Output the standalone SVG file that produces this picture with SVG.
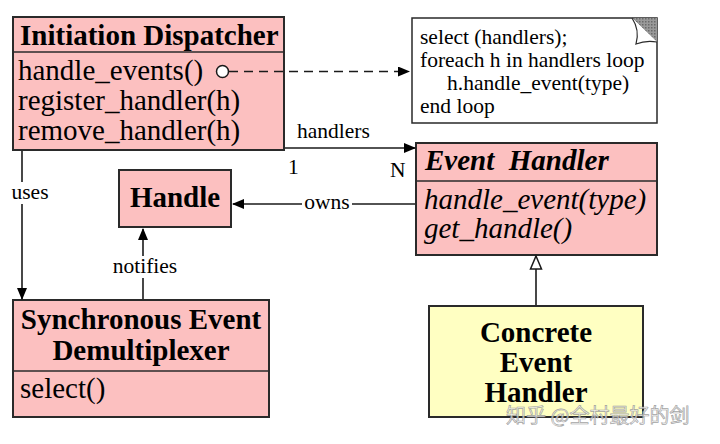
<svg xmlns="http://www.w3.org/2000/svg" width="720" height="444" viewBox="0 0 720 444">
  <style>
    .box { fill: #fcc0c0; stroke: #2a2a2a; stroke-width: 2; }
    .yel { fill: #ffffc2; stroke: #2a2a2a; stroke-width: 2; }
    .note { fill: #ffffff; stroke: #2a2a2a; stroke-width: 1.5; }
    .div { stroke: #2a2a2a; stroke-width: 1.5; }
    .t { font-family: "Liberation Serif", "Times New Roman", serif; fill: #000; }
    .title { font-size: 29px; font-weight: bold; }
    .m { font-size: 29px; }
    .lbl { font-size: 21.5px; }
    .nt { font-size: 21.5px; }
    .ln { fill: none; stroke: #1a1a1a; stroke-width: 1.6; }
  </style>
  <defs>
    <marker id="arr" markerWidth="12" markerHeight="10" refX="11" refY="5" orient="auto" markerUnits="userSpaceOnUse">
      <path d="M0,0 L12,5 L0,10 Z" fill="#000"/>
    </marker>
    <pattern id="dots" width="3" height="3" patternUnits="userSpaceOnUse">
      <rect width="3" height="3" fill="#9a9a9a"/>
      <rect width="1.5" height="1.5" fill="#6a6a6a"/>
    </pattern>
  </defs>

  <rect width="720" height="444" fill="#ffffff"/>

  <g id="initiation-dispatcher">
    <rect class="box" x="13" y="17" width="271" height="133"/>
    <line class="div" x1="13" y1="52" x2="284" y2="52"/>
    <text class="t title" x="20" y="45">Initiation Dispatcher</text>
    <text class="t m" x="18" y="80">handle_events()</text>
    <text class="t m" x="18" y="110">register_handler(h)</text>
    <text class="t m" x="18" y="140">remove_handler(h)</text>
  </g>

  <g id="note">
    <path class="note" d="M412,18 H657 V123 H412 Z"/>
    <path d="M632,18 H657 V42 Z" fill="url(#dots)"/>
    <path d="M632,18 Q640,30 636,44 Q646,40 657,42" fill="#fff" stroke="#2a2a2a" stroke-width="1.2"/>
    <text class="t nt" x="420" y="44">select (handlers);</text>
    <text class="t nt" x="420" y="67">foreach h in handlers loop</text>
    <text class="t nt" x="447" y="90">h.handle_event(type)</text>
    <text class="t nt" x="420" y="113">end loop</text>
  </g>

  <g id="event-handler">
    <rect class="box" x="416" y="143" width="241" height="112"/>
    <line class="div" x1="416" y1="181" x2="657" y2="181"/>
    <text class="t title" x="425" y="170" font-style="italic" xml:space="preserve">Event  Handler</text>
    <text class="t m" x="424" y="209" font-style="italic">handle_event(type)</text>
    <text class="t m" x="424" y="238" font-style="italic">get_handle()</text>
  </g>

  <g id="handle">
    <rect class="box" x="119" y="170" width="112" height="57"/>
    <text class="t title" x="175" y="207" text-anchor="middle" font-size="30">Handle</text>
  </g>

  <g id="sync-demux">
    <rect class="box" x="13" y="300" width="256" height="117"/>
    <line class="div" x1="13" y1="371" x2="269" y2="371"/>
    <text class="t title" x="141" y="329" text-anchor="middle">Synchronous Event</text>
    <text class="t title" x="141" y="360" text-anchor="middle">Demultiplexer</text>
    <text class="t m" x="20" y="398">select()</text>
  </g>

  <g id="concrete-event-handler">
    <rect class="yel" x="429" y="306" width="214" height="111"/>
    <text class="t title" x="536" y="342" text-anchor="middle" font-size="30">Concrete</text>
    <text class="t title" x="536" y="372" text-anchor="middle" font-size="30">Event</text>
    <text class="t title" x="536" y="402" text-anchor="middle" font-size="30">Handler</text>
  </g>

  <!-- connectors -->
  <g id="connectors">
    <!-- handle_events() note link -->
    <circle cx="222.5" cy="71.5" r="6" fill="#fff" stroke="#1a1a1a" stroke-width="1.5"/>
    <line class="ln" x1="229" y1="71.5" x2="409" y2="71.5" stroke-dasharray="9,6" marker-end="url(#arr)"/>
    <!-- handlers 1..N -->
    <line class="ln" x1="285" y1="148" x2="415" y2="148" marker-end="url(#arr)"/>
    <text class="t lbl" x="297" y="138">handlers</text>
    <text class="t lbl" x="288" y="174">1</text>
    <text class="t lbl" x="390" y="177">N</text>
    <!-- owns -->
    <line class="ln" x1="415" y1="204" x2="233" y2="204" marker-end="url(#arr)"/>
    <rect x="302" y="192" width="50" height="22" fill="#fff"/>
    <text class="t lbl" x="327" y="209" text-anchor="middle">owns</text>
    <!-- uses -->
    <line class="ln" x1="22" y1="151" x2="22" y2="299" marker-end="url(#arr)"/>
    <rect x="10" y="182" width="40" height="22" fill="#fff"/>
    <text class="t lbl" x="30" y="199" text-anchor="middle">uses</text>
    <!-- notifies -->
    <line class="ln" x1="143" y1="299" x2="143" y2="229" marker-end="url(#arr)"/>
    <rect x="110" y="256" width="70" height="22" fill="#fff"/>
    <text class="t lbl" x="145" y="273" text-anchor="middle">notifies</text>
    <!-- generalization -->
    <line class="ln" x1="536" y1="305" x2="536" y2="269"/>
    <path d="M536,256 L541.5,269 L530.5,269 Z" fill="#fff" stroke="#1a1a1a" stroke-width="1.5"/>
  </g>

  <text x="506" y="423" font-family="'Noto Sans CJK SC', 'Noto Sans', sans-serif" font-size="20" fill="#f2f2f2" fill-opacity="0.75" stroke="#8c8c8c" stroke-width="0.7" stroke-opacity="0.8">知乎 @全村最好的剑</text>
</svg>
